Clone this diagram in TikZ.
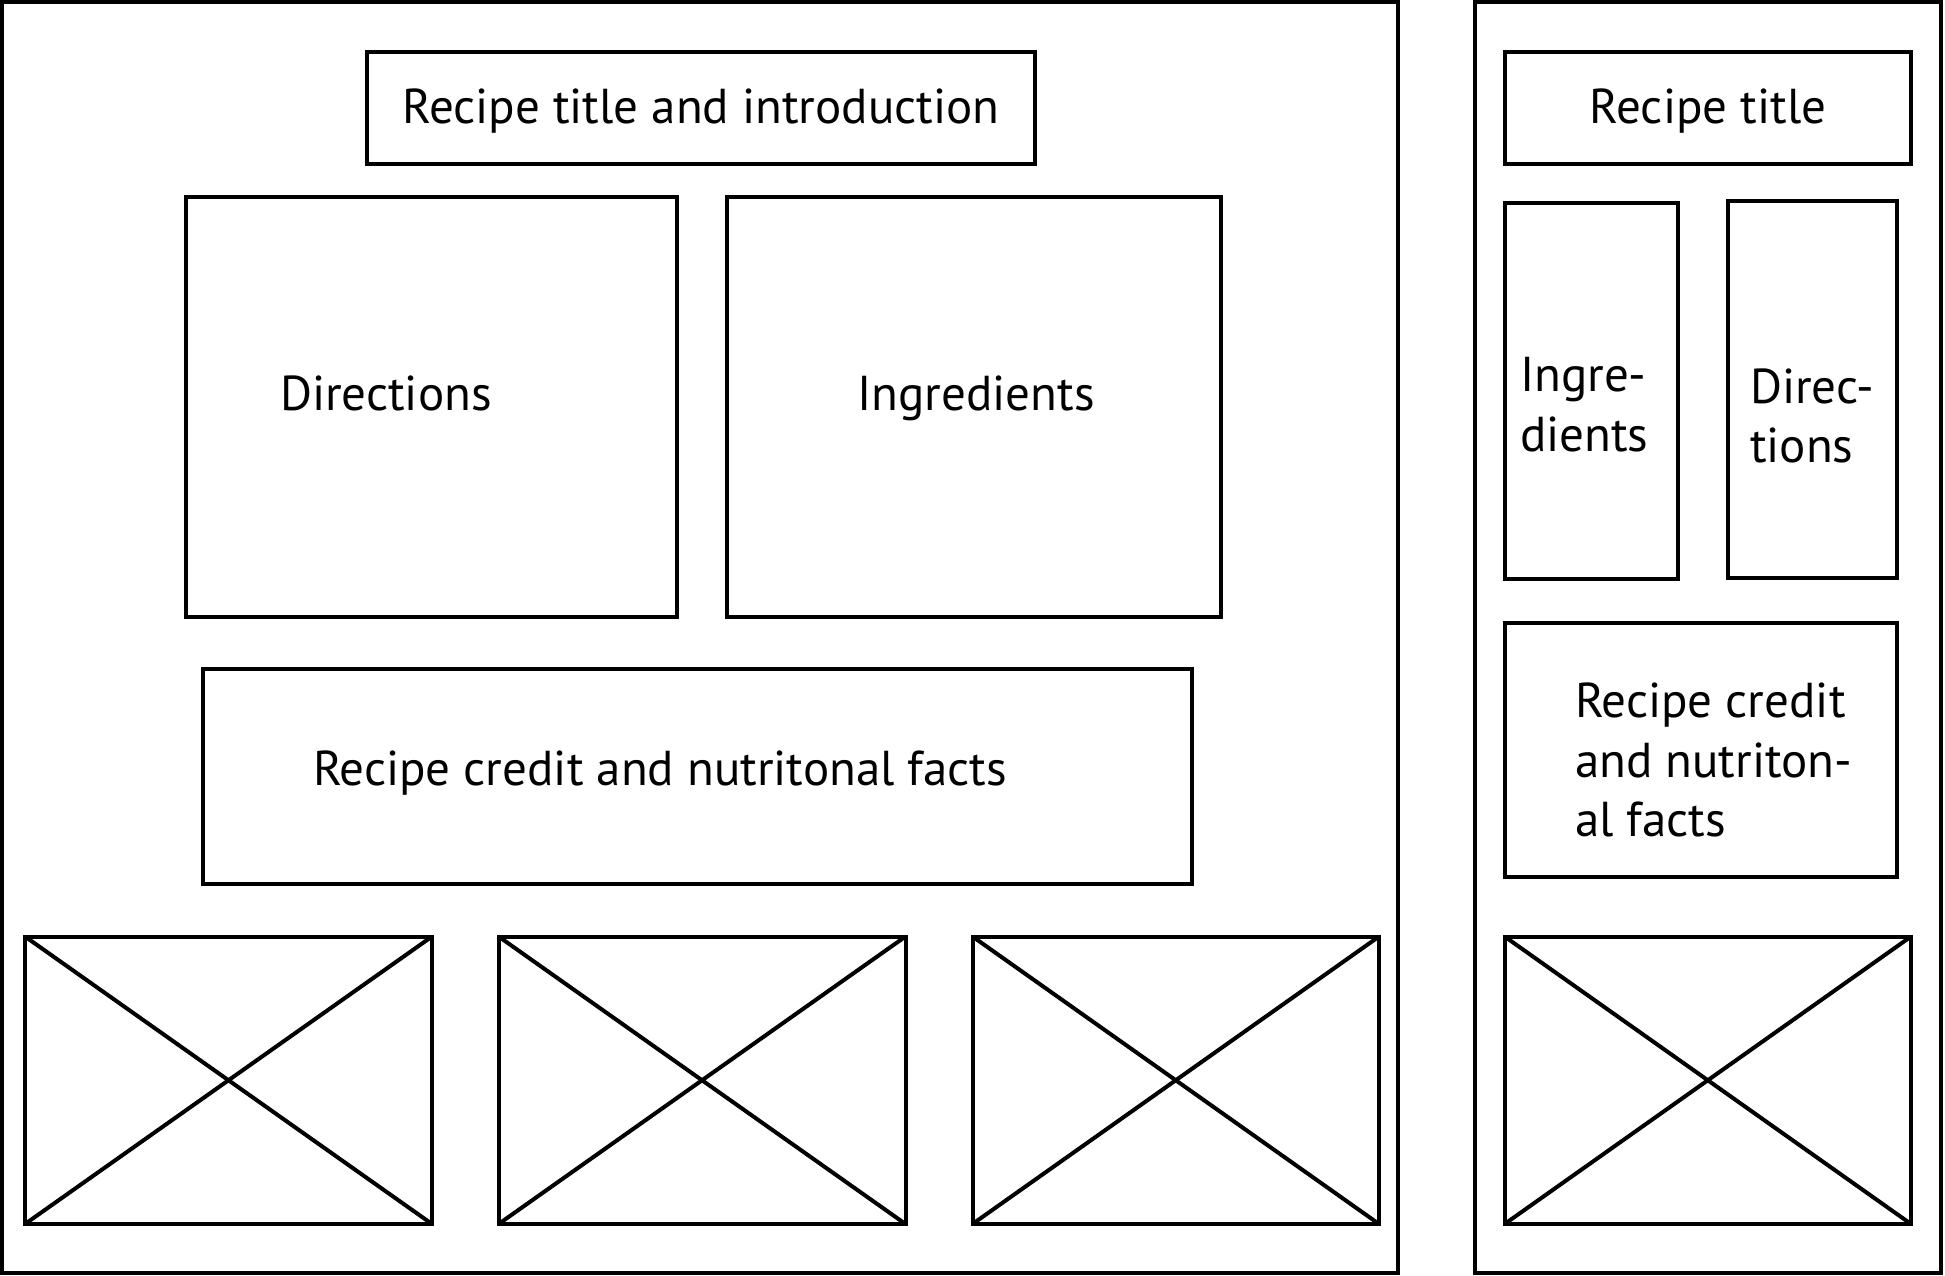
\documentclass[tikz,border=0pt]{standalone}
\usepackage{fontspec}
\setmainfont{PT Sans}
\usetikzlibrary{fit}
\tikzset{
  box/.style={draw, line width=4pt, inner sep=0pt, outer sep=0pt},
  lbl/.style={inner sep=0pt, outer sep=0pt, font=\fontsize{49}{59}\selectfont},
  cross/.style={line width=4pt}
}
\begin{document}
\begin{tikzpicture}[x=1pt,y=-1pt]
\useasboundingbox (0,0) rectangle (1945,1276);
% frames
\node[box, fit={(2,2)(1398,1273)}] (leftframe) {};
\node[box, fit={(1475,2)(1941,1273)}] (rightframe) {};
% left layout
\node[box, fit={(367,52)(1034.5,164)}] (ltitle) {};
\node[box, fit={(186,197)(677,616.5)}] (ldir) {};
\node[box, fit={(727,197)(1220.5,616.5)}] (ling) {};
\node[box, fit={(203,668.5)(1192,884)}] (lcredit) {};
\node[box, fit={(25,936.5)(432,1224)}] (limgA) {};
\node[box, fit={(498.6,936.5)(905.5,1224)}] (limgB) {};
\node[box, fit={(972.5,936.5)(1379,1224)}] (limgC) {};
% right layout
\node[box, fit={(1504.6,52)(1911,164)}] (rtitle) {};
\node[box, fit={(1504.6,203.4)(1678,579.3)}] (ring) {};
\node[box, fit={(1728,201)(1896.6,578)}] (rdir) {};
\node[box, fit={(1504.6,622.7)(1896.6,877)}] (rcredit) {};
\node[box, fit={(1504.6,936.5)(1911,1224)}] (rimg) {};
% crosses
\foreach \n in {limgA,limgB,limgC,rimg}{
  \draw[cross] (\n.north west) -- (\n.south east);
  \draw[cross] (\n.south west) -- (\n.north east);
}
% labels
\node[lbl, anchor=base] (tltitle) at (700.8,124) {Recipe title and introduction};
\node[lbl, anchor=base west] (tldir) at (280,410) {Directions};
\node[lbl, anchor=base] (tling) at (976,410) {Ingredients};
\node[lbl, anchor=base west] (tlcredit) at (313,785) {Recipe credit and nutritonal facts};
\node[lbl, anchor=base] (trtitle) at (1708,124) {Recipe title};
\node[lbl, anchor=base west] (tringA) at (1520,391) {Ingre-};
\node[lbl, anchor=base west] (tringB) at (1520,451) {dients};
\node[lbl, anchor=base west] (trdirA) at (1750,403) {Direc-};
\node[lbl, anchor=base west] (trdirB) at (1750,462) {tions};
\node[lbl, anchor=base west] (trcredA) at (1575,717) {Recipe credit};
\node[lbl, anchor=base west] (trcredB) at (1575,777) {and nutriton-};
\node[lbl, anchor=base west] (trcredC) at (1575,836) {al facts};
\end{tikzpicture}
\end{document}
